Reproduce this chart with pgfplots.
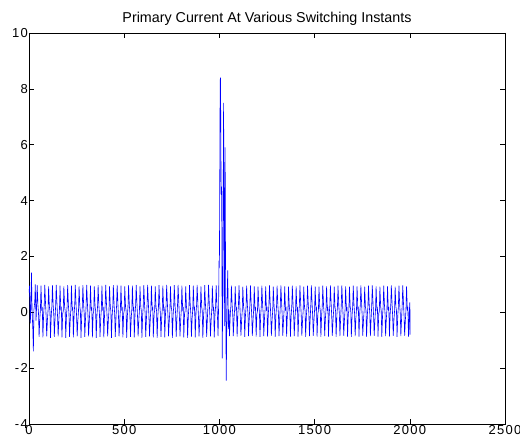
\documentclass[border=0pt]{standalone}
\usepackage{fontspec}
\setmainfont{Liberation Sans}
\newfontfamily\tickfont[LetterSpace=10]{Liberation Sans}
\usepackage{pgfplots}
\pgfplotsset{compat=1.18}

\begin{document}
\begin{tikzpicture}
\begin{axis}[
  scale only axis,
  width=476pt, height=391pt,
  xmin=0, xmax=2500,
  ymin=-4, ymax=10,
  xtick={0,500,1000,1500,2000,2500},
  ytick={-4,-2,0,2,4,6,8,10},
  tick align=inside,
  major tick length=5pt,
  axis line style={black, line width=0.5pt},
  tick style={black, line width=0.5pt},
  /pgf/number format/assume math mode=true,
  /pgf/number format/1000 sep={},
  tick label style={font=\tickfont\fontsize{13}{15}\selectfont},
  yticklabel style={inner sep=1pt},
  xticklabel style={inner sep=1pt},
  title={Primary Current At Various Switching Instants},
  title style={font=\fontsize{14.3}{16}\selectfont, yshift=-2pt},
]
\addplot[blue, line width=0.6pt] coordinates {
(0,0.70)(3,0.95)(7,-0.40)(10,0.30)(13,1.42)(16,0.10)
(20,-0.60)(23,-1.40)(26,0.10)(30,0.35)(33,1.00)(37,-0.30)
(40,0.20)(43,0.97)(47,0.25)(50,-0.05)(53,-0.88)(57,-0.20)
(60,0.10)(63,0.95)(67,0.10)(70,0.15)(73,-0.90)(77,-0.05)
(80,0.25)(83,0.98)(87,0.30)(90,-0.15)(93,-0.86)(97,-0.25)
(100,0.05)(103,0.93)(107,0.20)(110,0.05)(113,-0.92)(117,-0.10)
(120,0.20)(123,0.97)(127,0.25)(130,-0.05)(133,-0.88)(137,-0.20)
(140,0.25)(143,0.98)(147,0.30)(150,-0.15)(153,-0.86)(157,-0.25)
(160,0.10)(163,0.95)(167,0.10)(170,0.15)(173,-0.90)(177,-0.05)
(180,0.05)(183,0.93)(187,0.20)(190,0.05)(193,-0.92)(197,-0.10)
(200,0.20)(203,0.97)(207,0.25)(210,-0.05)(213,-0.88)(217,-0.20)
(220,0.10)(223,0.95)(227,0.10)(230,0.15)(233,-0.90)(237,-0.05)
(240,0.25)(243,0.98)(247,0.30)(250,-0.15)(253,-0.86)(257,-0.25)
(260,0.05)(263,0.93)(267,0.20)(270,0.05)(273,-0.92)(277,-0.10)
(280,0.20)(283,0.97)(287,0.25)(290,-0.05)(293,-0.88)(297,-0.20)
(300,0.25)(303,0.98)(307,0.30)(310,-0.15)(313,-0.86)(317,-0.25)
(320,0.10)(323,0.95)(327,0.10)(330,0.15)(333,-0.90)(337,-0.05)
(340,0.05)(343,0.93)(347,0.20)(350,0.05)(353,-0.92)(357,-0.10)
(360,0.20)(363,0.97)(367,0.25)(370,-0.05)(373,-0.88)(377,-0.20)
(380,0.10)(383,0.95)(387,0.10)(390,0.15)(393,-0.90)(397,-0.05)
(400,0.25)(403,0.98)(407,0.30)(410,-0.15)(413,-0.86)(417,-0.25)
(420,0.05)(423,0.93)(427,0.20)(430,0.05)(433,-0.92)(437,-0.10)
(440,0.20)(443,0.97)(447,0.25)(450,-0.05)(453,-0.88)(457,-0.20)
(460,0.25)(463,0.98)(467,0.30)(470,-0.15)(473,-0.86)(477,-0.25)
(480,0.10)(483,0.95)(487,0.10)(490,0.15)(493,-0.90)(497,-0.05)
(500,0.05)(503,0.93)(507,0.20)(510,0.05)(513,-0.92)(517,-0.10)
(520,0.20)(523,0.97)(527,0.25)(530,-0.05)(533,-0.88)(537,-0.20)
(540,0.10)(543,0.95)(547,0.10)(550,0.15)(553,-0.90)(557,-0.05)
(560,0.25)(563,0.98)(567,0.30)(570,-0.15)(573,-0.86)(577,-0.25)
(580,0.05)(583,0.93)(587,0.20)(590,0.05)(593,-0.92)(597,-0.10)
(600,0.20)(603,0.97)(607,0.25)(610,-0.05)(613,-0.88)(617,-0.20)
(620,0.25)(623,0.98)(627,0.30)(630,-0.15)(633,-0.86)(637,-0.25)
(640,0.10)(643,0.95)(647,0.10)(650,0.15)(653,-0.90)(657,-0.05)
(660,0.05)(663,0.93)(667,0.20)(670,0.05)(673,-0.92)(677,-0.10)
(680,0.20)(683,0.97)(687,0.25)(690,-0.05)(693,-0.88)(697,-0.20)
(700,0.10)(703,0.95)(707,0.10)(710,0.15)(713,-0.90)(717,-0.05)
(720,0.25)(723,0.98)(727,0.30)(730,-0.15)(733,-0.86)(737,-0.25)
(740,0.05)(743,0.93)(747,0.20)(750,0.05)(753,-0.92)(757,-0.10)
(760,0.20)(763,0.97)(767,0.25)(770,-0.05)(773,-0.88)(777,-0.20)
(780,0.25)(783,0.98)(787,0.30)(790,-0.15)(793,-0.86)(797,-0.25)
(800,0.10)(803,0.95)(807,0.10)(810,0.15)(813,-0.90)(817,-0.05)
(820,0.05)(823,0.93)(827,0.20)(830,0.05)(833,-0.92)(837,-0.10)
(840,0.20)(843,0.97)(847,0.25)(850,-0.05)(853,-0.88)(857,-0.20)
(860,0.10)(863,0.95)(867,0.10)(870,0.15)(873,-0.90)(877,-0.05)
(880,0.25)(883,0.98)(887,0.30)(890,-0.15)(893,-0.86)(897,-0.25)
(900,0.05)(903,0.93)(907,0.20)(910,0.05)(913,-0.92)(917,-0.10)
(920,0.20)(923,0.97)(927,0.25)(930,-0.05)(933,-0.88)(937,-0.20)
(940,0.25)(943,0.98)(947,0.30)(950,-0.15)(953,-0.86)(957,-0.25)
(960,0.10)(963,0.95)(967,0.10)(970,0.15)(973,-0.90)(977,-0.05)
(980,0.20)(983,0.97)(987,0.25)
(990,-0.20)(993,-0.85)(996,0.30)(998,1.85)(1000,1.60)(1004,8.30)
(1006,8.40)(1009,4.20)(1012,4.50)(1015,-1.65)(1018,1.20)(1022,7.50)
(1024,4.30)(1026,-0.50)(1030,5.90)(1033,0.20)(1036,-2.45)(1040,0.50)
(1044,1.50)(1047,-0.60)(1050,0.10)(1053,-0.85)(1057,-0.10)
(1060,0.20)(1063,0.95)(1067,0.25)(1070,-0.05)(1073,-0.85)(1077,-0.20)
(1080,0.10)(1083,0.93)(1087,0.10)(1090,0.15)(1093,-0.87)(1097,-0.05)
(1100,0.25)(1103,0.96)(1107,0.30)(1110,-0.15)(1113,-0.84)(1117,-0.25)
(1120,0.05)(1123,0.92)(1127,0.20)(1130,0.05)(1133,-0.88)(1137,-0.10)
(1140,0.20)(1143,0.95)(1147,0.25)(1150,-0.05)(1153,-0.85)(1157,-0.20)
(1160,0.25)(1163,0.96)(1167,0.30)(1170,-0.15)(1173,-0.84)(1177,-0.25)
(1180,0.10)(1183,0.93)(1187,0.10)(1190,0.15)(1193,-0.87)(1197,-0.05)
(1200,0.05)(1203,0.92)(1207,0.20)(1210,0.05)(1213,-0.88)(1217,-0.10)
(1220,0.20)(1223,0.95)(1227,0.25)(1230,-0.05)(1233,-0.85)(1237,-0.20)
(1240,0.10)(1243,0.93)(1247,0.10)(1250,0.15)(1253,-0.87)(1257,-0.05)
(1260,0.25)(1263,0.96)(1267,0.30)(1270,-0.15)(1273,-0.84)(1277,-0.25)
(1280,0.05)(1283,0.92)(1287,0.20)(1290,0.05)(1293,-0.88)(1297,-0.10)
(1300,0.20)(1303,0.95)(1307,0.25)(1310,-0.05)(1313,-0.85)(1317,-0.20)
(1320,0.25)(1323,0.96)(1327,0.30)(1330,-0.15)(1333,-0.84)(1337,-0.25)
(1340,0.10)(1343,0.93)(1347,0.10)(1350,0.15)(1353,-0.87)(1357,-0.05)
(1360,0.05)(1363,0.92)(1367,0.20)(1370,0.05)(1373,-0.88)(1377,-0.10)
(1380,0.20)(1383,0.95)(1387,0.25)(1390,-0.05)(1393,-0.85)(1397,-0.20)
(1400,0.10)(1403,0.93)(1407,0.10)(1410,0.15)(1413,-0.87)(1417,-0.05)
(1420,0.25)(1423,0.96)(1427,0.30)(1430,-0.15)(1433,-0.84)(1437,-0.25)
(1440,0.05)(1443,0.92)(1447,0.20)(1450,0.05)(1453,-0.88)(1457,-0.10)
(1460,0.20)(1463,0.95)(1467,0.25)(1470,-0.05)(1473,-0.85)(1477,-0.20)
(1480,0.25)(1483,0.96)(1487,0.30)(1490,-0.15)(1493,-0.84)(1497,-0.25)
(1500,0.10)(1503,0.93)(1507,0.10)(1510,0.15)(1513,-0.87)(1517,-0.05)
(1520,0.05)(1523,0.92)(1527,0.20)(1530,0.05)(1533,-0.88)(1537,-0.10)
(1540,0.20)(1543,0.95)(1547,0.25)(1550,-0.05)(1553,-0.85)(1557,-0.20)
(1560,0.10)(1563,0.93)(1567,0.10)(1570,0.15)(1573,-0.87)(1577,-0.05)
(1580,0.25)(1583,0.96)(1587,0.30)(1590,-0.15)(1593,-0.84)(1597,-0.25)
(1600,0.05)(1603,0.92)(1607,0.20)(1610,0.05)(1613,-0.88)(1617,-0.10)
(1620,0.20)(1623,0.95)(1627,0.25)(1630,-0.05)(1633,-0.85)(1637,-0.20)
(1640,0.25)(1643,0.96)(1647,0.30)(1650,-0.15)(1653,-0.84)(1657,-0.25)
(1660,0.10)(1663,0.93)(1667,0.10)(1670,0.15)(1673,-0.87)(1677,-0.05)
(1680,0.05)(1683,0.92)(1687,0.20)(1690,0.05)(1693,-0.88)(1697,-0.10)
(1700,0.20)(1703,0.95)(1707,0.25)(1710,-0.05)(1713,-0.85)(1717,-0.20)
(1720,0.10)(1723,0.93)(1727,0.10)(1730,0.15)(1733,-0.87)(1737,-0.05)
(1740,0.25)(1743,0.96)(1747,0.30)(1750,-0.15)(1753,-0.84)(1757,-0.25)
(1760,0.05)(1763,0.92)(1767,0.20)(1770,0.05)(1773,-0.88)(1777,-0.10)
(1780,0.20)(1783,0.95)(1787,0.25)(1790,-0.05)(1793,-0.85)(1797,-0.20)
(1800,0.25)(1803,0.96)(1807,0.30)(1810,-0.15)(1813,-0.84)(1817,-0.25)
(1820,0.10)(1823,0.93)(1827,0.10)(1830,0.15)(1833,-0.87)(1837,-0.05)
(1840,0.05)(1843,0.92)(1847,0.20)(1850,0.05)(1853,-0.88)(1857,-0.10)
(1860,0.20)(1863,0.95)(1867,0.25)(1870,-0.05)(1873,-0.85)(1877,-0.20)
(1880,0.10)(1883,0.93)(1887,0.10)(1890,0.15)(1893,-0.87)(1897,-0.05)
(1900,0.25)(1903,0.96)(1907,0.30)(1910,-0.15)(1913,-0.84)(1917,-0.25)
(1920,0.05)(1923,0.92)(1927,0.20)(1930,0.05)(1933,-0.88)(1937,-0.10)
(1940,0.20)(1943,0.95)(1947,0.25)(1950,-0.05)(1953,-0.85)(1957,-0.20)
(1960,0.25)(1963,0.96)(1967,0.30)(1970,-0.15)(1973,-0.84)(1977,-0.25)
(1980,0.10)(1983,0.93)(1987,0.10)(1990,0.15)(1993,-0.87)(1997,-0.05)
(2000,0.35)(2001,-0.80)(2002,0.10)
};
\end{axis}
\pgfresetboundingbox
\path (current axis.south west) ++(-29pt,-19pt) rectangle ++(520pt,443pt);
\end{tikzpicture}
\end{document}
